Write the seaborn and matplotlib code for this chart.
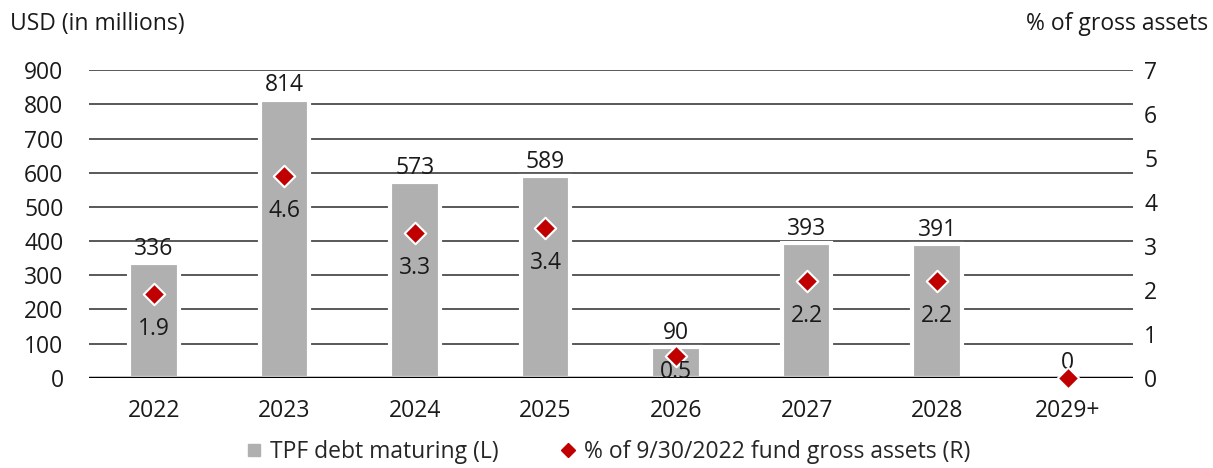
import pandas as pd
import seaborn as sns
import matplotlib.pyplot as plt
from matplotlib.lines import Line2D

# Data
years = ['2022', '2023', '2024', '2025', '2026', '2027', '2028', '2029+']
debt = [336, 814, 573, 589, 90, 393, 391, 0]
pct = [1.9, 4.6, 3.3, 3.4, 0.5, 2.2, 2.2, 0.0]

dtf = pd.DataFrame({'Year': years, 'Debt': debt, 'Pct': pct})

sns.set_theme(style='white')
plt.rcParams['font.family'] = ['Open Sans', 'DejaVu Sans']
FS = 16.5
TXT = '#1a1a1a'

fig, ax = plt.subplots(figsize=(12.13, 4.68), dpi=100)
fig.subplots_adjust(left=0.073, right=0.934, top=0.85, bottom=0.193)

# gridlines under the bars
for v in range(100, 1000, 100):
    ax.axhline(v, color='#3c3c3c', lw=1.2, zorder=0)

sns.barplot(data=dtf, x='Year', y='Debt', color='#b0b0b0', width=0.38,
            edgecolor='white', linewidth=3, saturation=1, ax=ax, zorder=2)
ax.axhline(0, color='black', lw=2.5, zorder=3)

ax.set_ylim(0, 900)
ax.set_xlim(-0.5, 7.5)
ax.set_yticks(range(0, 1000, 100))
ax.set_xlabel('')
ax.set_ylabel('')
ax.tick_params(axis='both', labelsize=FS, length=0, colors=TXT)
ax.tick_params(axis='y', pad=18)
ax.tick_params(axis='x', pad=15)
for s in ax.spines.values():
    s.set_visible(False)

for i, v in enumerate(debt):
    ax.text(i, v + 24, str(v), ha='center', va='baseline', fontsize=FS,
            color=TXT, zorder=5)

ax2 = ax.twinx()
ax2.set_ylim(0, 7)
ax2.set_yticks(range(0, 8))
sns.scatterplot(x=list(range(len(years))), y=pct, marker='D', s=120,
                color='#c00000', edgecolor='white', linewidth=1.5,
                ax=ax2, zorder=6, clip_on=False)
for i, v in enumerate(pct):
    if v > 0:
        # small values sit just under the marker, straddling the axis
        ax2.text(i, max(v - 0.8, 0.14), f'{v:.1f}', ha='center', va='center',
                 fontsize=FS, color=TXT, zorder=7)
ax2.tick_params(axis='y', labelsize=FS, length=0, colors=TXT, pad=8)
for s in ax2.spines.values():
    s.set_visible(False)

fig.text(0.008, 0.975, 'USD (in millions)', ha='left', va='top', fontsize=FS,
         color=TXT)
fig.text(0.996, 0.975, '% of gross assets', ha='right', va='top', fontsize=FS,
         color=TXT)

handles = [
    Line2D([], [], marker='s', ls='', color='#b0b0b0', markersize=9),
    Line2D([], [], marker='D', ls='', color='#c00000', markersize=7),
]
fig.legend(handles, ['TPF debt maturing (L)', '% of 9/30/2022 fund gross assets (R)'],
           loc='lower center', bbox_to_anchor=(0.5, -0.035), ncol=2, frameon=False,
           fontsize=FS, handletextpad=0.2, columnspacing=2.5, handlelength=1)

fig.savefig('out.png', dpi=100)
